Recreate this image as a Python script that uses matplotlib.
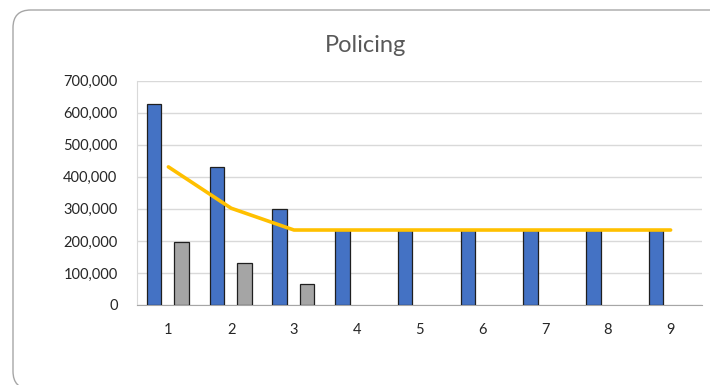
import numpy as np
import matplotlib
matplotlib.use("Agg")
from matplotlib import pyplot as plt
from matplotlib.patches import FancyBboxPatch
from matplotlib.ticker import FuncFormatter

categories = [1, 2, 3, 4, 5, 6, 7, 8, 9]
blue_vals = [627000, 431000, 301000, 233000, 233000, 233000, 233000, 233000, 233000]
grey_vals = [196000, 131000, 66000, 0, 0, 0, 0, 0, 0]
line_vals = [431000, 302000, 234000, 234000, 234000, 234000, 234000, 234000, 234000]
title = "Policing"

plt.rcParams['font.family'] = ['Lato', 'DejaVu Sans']

fig = plt.figure(figsize=(7.1, 3.85), dpi=100)

# rounded chart border, runs off the right and bottom edge
border = FancyBboxPatch((13 / 710, -4 / 385), 1.3, 1 - 6 / 385,
                        boxstyle="round,pad=0,rounding_size=0.025",
                        transform=fig.transFigure, facecolor='white',
                        edgecolor='#a6a6a6', linewidth=1.0,
                        mutation_aspect=710 / 385, zorder=0)
fig.patches.append(border)

ax = fig.add_axes([137 / 710, 0.2078, (702 - 137) / 710, 0.5826])
ax.set_zorder(2)
ax.set_facecolor('none')

x = np.arange(len(categories))
w = 0.23
ax.bar(x - 0.23, blue_vals, width=w, color='#4472C4', edgecolor='#1f1f1f',
       linewidth=0.9, zorder=3)
grey_x = [xi + 0.21 for xi, v in zip(x, grey_vals) if v > 0]
ax.bar(grey_x, [v for v in grey_vals if v > 0], width=w, color='#A5A5A5',
       edgecolor='#1f1f1f', linewidth=0.9, zorder=3)
ax.plot(x, line_vals, color='#FFC000', linewidth=2.6, solid_capstyle='round',
        solid_joinstyle='round', zorder=4)

ax.set_xlim(-0.5, len(categories) - 0.5)
ax.set_ylim(0, 700000)
ax.set_yticks(np.arange(0, 700001, 100000))
ax.yaxis.set_major_formatter(FuncFormatter(lambda v, p: f"{int(v):,}"))
ax.set_xticks(x)
ax.set_xticklabels([str(c) for c in categories])
ax.grid(axis='y', color='#d9d9d9', linewidth=1.0, zorder=0)
ax.tick_params(length=0, labelsize=10.5, colors='#262626')
ax.tick_params(axis='x', pad=13)
ax.tick_params(axis='y', pad=14)
for s in ['top', 'right']:
    ax.spines[s].set_visible(False)
ax.spines['left'].set_color('#d9d9d9')
ax.spines['bottom'].set_color('#a6a6a6')

fig.text(366 / 710, 1 - 45 / 385, title, ha='center', va='center',
         fontsize=17, color='#595959', zorder=3)

fig.savefig('out.png', dpi=100)
